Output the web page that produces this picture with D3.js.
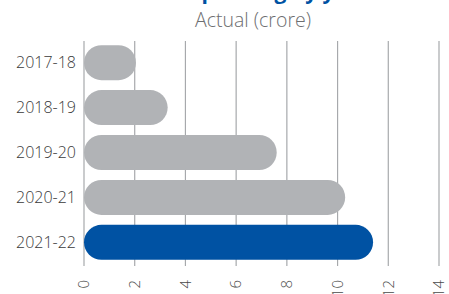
<!DOCTYPE html>
<html>
<head>
<meta charset="utf-8">
<script src="https://cdn.jsdelivr.net/npm/d3@7"></script>
<style>
  body { margin: 0; background: #fff; }
  svg { display: block; font-family: "Open Sans", "Noto Sans", sans-serif; }
</style>
</head>
<body>
<svg id="chart" width="449" height="294"></svg>
<script>
// chart data
const years = ['2017-18', '2018-19', '2019-20', '2020-21', '2021-22'];
const actual = [2.05, 3.3, 7.6, 10.3, 11.4];
const tickValues = [0, 2, 4, 6, 8, 10, 12, 14];

const svg = d3.select('#chart');

const x = d3.scaleLinear().domain([0, 14]).range([84, 439]);
const y = d3.scaleBand().domain(years).range([40, 265]).paddingInner(0.22).paddingOuter(0.115);

// title (cut off at top in the original)
svg.append('text')
    .attr('x', 258).attr('y', -1)
    .attr('text-anchor', 'middle')
    .attr('font-size', 21).attr('font-weight', 700)
    .attr('fill', '#0052a3')
    .text('CSR spending by year');

svg.append('text')
    .attr('x', 253).attr('y', 27)
    .attr('text-anchor', 'middle')
    .attr('font-size', 19.5).attr('font-weight', 300)
    .attr('fill', '#6d6e70')
    .text('Actual (crore)');

// grid lines
svg.append('g')
    .selectAll('line')
    .data(tickValues)
    .join('line')
    .attr('x1', d => x(d)).attr('x2', d => x(d))
    .attr('y1', 41).attr('y2', 266)
    .attr('stroke', '#a7a9ac')
    .attr('stroke-width', 1.2);

// bars with round caps
svg.append('g')
    .selectAll('rect')
    .data(years)
    .join('rect')
    .attr('x', x(0))
    .attr('y', d => y(d))
    .attr('width', (d, i) => x(actual[i]) - x(0))
    .attr('height', y.bandwidth())
    .attr('rx', y.bandwidth() / 2)
    .attr('fill', (d, i) => i === years.length - 1 ? '#0052a3' : '#b1b3b6');

// category labels
svg.append('g')
    .selectAll('text')
    .data(years)
    .join('text')
    .attr('x', 76)
    .attr('y', d => y(d) + y.bandwidth() / 2)
    .attr('dy', '0.35em')
    .attr('text-anchor', 'end')
    .attr('font-size', 16)
    .attr('font-weight', 300)
    .attr('fill', '#3a3a3a')
    .text(d => d);

// rotated tick labels
svg.append('g')
    .selectAll('text')
    .data(tickValues)
    .join('text')
    .attr('transform', d => `translate(${x(d)},280) rotate(-90)`)
    .attr('dy', '0.35em')
    .attr('text-anchor', 'end')
    .attr('font-size', 15)
    .attr('font-weight', 300)
    .attr('fill', '#4a4a4a')
    .text(d => d);
</script>
</body>
</html>
